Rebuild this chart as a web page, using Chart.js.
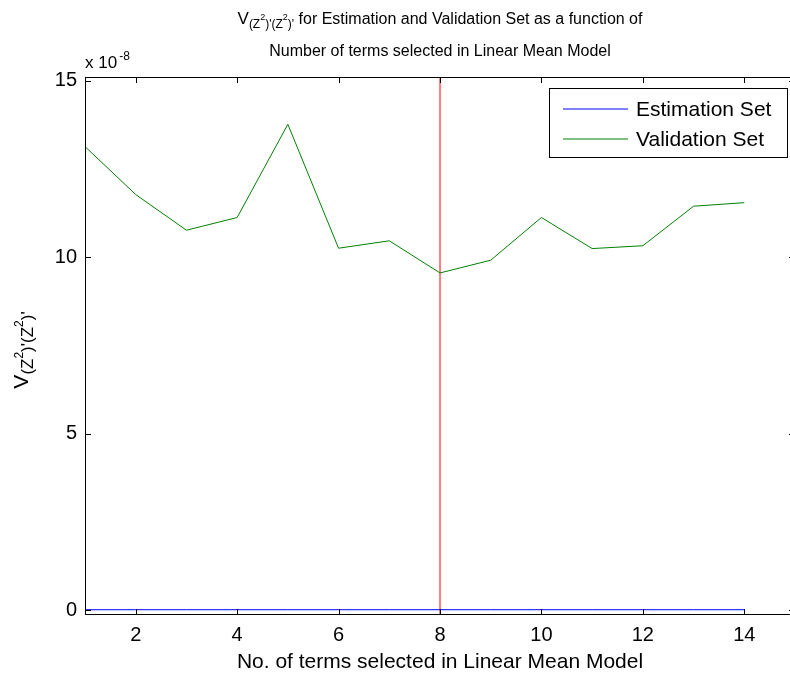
<!DOCTYPE html>
<html>
<head>
<meta charset="utf-8">
<script src="https://cdn.jsdelivr.net/npm/chart.js@4.4.1/dist/chart.umd.min.js"></script>
<style>
  html, body { margin: 0; padding: 0; background: #fff; overflow: hidden; width: 790px; height: 677px; }
  canvas { display: block; }
</style>
</head>
<body>
<canvas id="chart" width="800" height="677"></canvas>
<script>
// values in units of 1e-8
const terms = [1, 2, 3, 4, 5, 6, 7, 8, 9, 10, 11, 12, 13, 14];
const estimation = [0.01, 0.01, 0.01, 0.01, 0.01, 0.01, 0.01, 0.01, 0.01, 0.01, 0.01, 0.01, 0.01, 0.01];
const validation = [13.13, 11.77, 10.76, 11.12, 13.76, 10.25, 10.46, 9.55, 9.91, 11.12, 10.24, 10.32, 11.44, 11.54];
const selectedTerms = 8;
const xTicks = [2, 4, 6, 8, 10, 12, 14];
const yTicks = [0, 5, 10, 15];
const xRange = [1, 15];
const yRange = [-0.14, 15.1];
const seriesNames = ["Estimation Set", "Validation Set"];
const xLabel = "No. of terms selected in Linear Mean Model";
const titleRest = " for Estimation and Validation Set as a function of";
const titleLine2 = "Number of terms selected in Linear Mean Model";

const FAMILY = '"Liberation Sans", Arial, Helvetica, sans-serif';
const FS = 21;
const TS = 16; // title size

// V_{(Z^2)'(Z^2)'} as pieces: text, size, baseline shift
function vSymbol(big, sub, sup, down, up) {
  return [
    { t: "V", s: big, dy: 0 },
    { t: "(Z", s: sub, dy: down },
    { t: "2", s: sup, dy: up },
    { t: ")'(Z", s: sub, dy: down },
    { t: "2", s: sup, dy: up },
    { t: ")'", s: sub, dy: down },
  ];
}

function drawPieces(ctx, pieces, cx, baseY) {
  let w = 0;
  pieces.forEach((p) => {
    ctx.font = p.s + "px " + FAMILY;
    w += ctx.measureText(p.t).width;
  });
  let x = cx - w / 2;
  ctx.textAlign = "left";
  ctx.textBaseline = "alphabetic";
  pieces.forEach((p) => {
    ctx.font = p.s + "px " + FAMILY;
    ctx.fillText(p.t, x, baseY + p.dy);
    x += ctx.measureText(p.t).width;
  });
}

const decorPlugin = {
  id: "decor",
  afterDatasetsDraw(chart) {
    const ctx = chart.ctx;
    const a = chart.chartArea;
    const xs = chart.scales.x;
    const ys = chart.scales.y;
    ctx.save();
    ctx.fillStyle = "#000";
    ctx.strokeStyle = "#000";
    ctx.lineWidth = 1;

    // box
    ctx.strokeRect(a.left + 0.5, a.top + 0.5, a.right - a.left - 1, a.bottom - a.top - 1);

    // inward ticks on all four sides
    const tl = 6;
    ctx.beginPath();
    xTicks.forEach((v) => {
      const px = Math.round(xs.getPixelForValue(v)) + 0.5;
      ctx.moveTo(px, a.bottom);
      ctx.lineTo(px, a.bottom - tl);
      ctx.moveTo(px, a.top);
      ctx.lineTo(px, a.top + tl);
    });
    yTicks.forEach((v) => {
      const py = Math.round(ys.getPixelForValue(v)) + 0.5;
      ctx.moveTo(a.left, py);
      ctx.lineTo(a.left + tl, py);
      ctx.moveTo(a.right, py);
      ctx.lineTo(a.right - tl, py);
    });
    ctx.stroke();

    // legend
    const lx = a.right - 246, ly = a.top + 11, lw = 238, lh = 69;
    ctx.fillStyle = "#fff";
    ctx.fillRect(lx, ly, lw, lh);
    ctx.strokeStyle = "#000";
    ctx.strokeRect(lx + 0.5, ly + 0.5, lw, lh);
    [0, 1].forEach((i) => {
      const ds = chart.data.datasets[i];
      const ry = ly + 21 + i * 30;
      ctx.beginPath();
      ctx.strokeStyle = ds.borderColor;
      ctx.moveTo(lx + 14, ry);
      ctx.lineTo(lx + 79, ry);
      ctx.stroke();
      ctx.fillStyle = "#000";
      ctx.font = FS + "px " + FAMILY;
      ctx.textAlign = "left";
      ctx.textBaseline = "middle";
      ctx.fillText(ds.label, lx + 87, ry + 1);
    });

    // exponent label
    ctx.fillStyle = "#000";
    ctx.textAlign = "left";
    ctx.textBaseline = "alphabetic";
    ctx.font = "17px " + FAMILY;
    ctx.fillText("x 10", a.left, a.top - 9);
    const w = ctx.measureText("x 10").width;
    ctx.font = "12px " + FAMILY;
    ctx.fillText("-8", a.left + w + 2, a.top - 17);

    // title
    const cx = (a.left + a.right) / 2;
    drawPieces(ctx, vSymbol(TS + 1, 12, 9, 4, -4).concat([{ t: titleRest, s: TS, dy: 0 }]), cx, 24);
    drawPieces(ctx, [{ t: titleLine2, s: TS, dy: 0 }], cx, 56);

    // y label, rotated
    ctx.translate(28, (a.top + a.bottom) / 2 + 4);
    ctx.rotate(-Math.PI / 2);
    drawPieces(ctx, vSymbol(FS, 17, 12, 5, -5), 0, 0);
    ctx.restore();
  },
};

const tickFont = { family: FAMILY, size: 20 };

new Chart(document.getElementById("chart"), {
  type: "line",
  data: {
    datasets: [
      {
        label: seriesNames[0],
        data: terms.map((t, i) => ({ x: t, y: estimation[i] })),
        borderColor: "#0000ff",
        borderWidth: 1,
        pointRadius: 0,
      },
      {
        label: seriesNames[1],
        data: terms.map((t, i) => ({ x: t, y: validation[i] })),
        borderColor: "#008000",
        borderWidth: 1,
        pointRadius: 0,
      },
      {
        label: "selected",
        data: [
          { x: selectedTerms, y: yRange[0] },
          { x: selectedTerms, y: yRange[1] },
        ],
        borderColor: "#ff0000",
        borderWidth: 1,
        pointRadius: 0,
      },
    ],
  },
  options: {
    responsive: false,
    animation: false,
    devicePixelRatio: 1,
    layout: { padding: { top: 77, right: 5, left: 0, bottom: 0 } },
    plugins: { legend: { display: false }, tooltip: { enabled: false } },
    scales: {
      x: {
        type: "linear",
        min: xRange[0],
        max: xRange[1],
        afterBuildTicks: (s) => { s.ticks = xTicks.map((v) => ({ value: v })); },
        afterFit: (s) => { s.height = 62; },
        grid: { display: false, drawTicks: false },
        border: { display: false },
        ticks: { font: tickFont, color: "#000", padding: 8, autoSkip: false, maxRotation: 0 },
        title: { display: true, text: xLabel, font: { family: FAMILY, size: FS }, color: "#000", padding: { top: 0, bottom: 2 } },
      },
      y: {
        type: "linear",
        min: yRange[0],
        max: yRange[1],
        afterBuildTicks: (s) => { s.ticks = yTicks.map((v) => ({ value: v })); },
        afterFit: (s) => { s.width = 85; },
        grid: { display: false, drawTicks: false },
        border: { display: false },
        ticks: { font: tickFont, color: "#000", padding: 8 },
      },
    },
  },
  plugins: [decorPlugin],
});
</script>
</body>
</html>
